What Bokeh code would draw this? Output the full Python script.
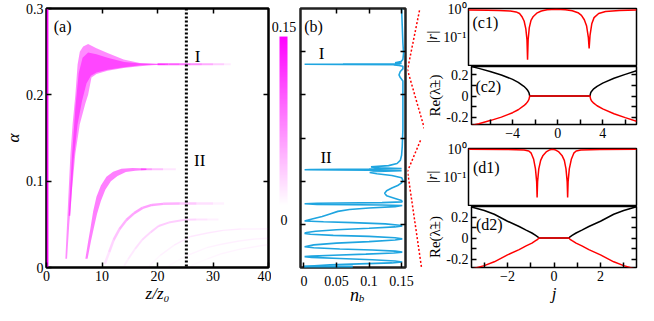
import numpy as np
from bokeh.plotting import figure
from bokeh.layouts import row, column
from bokeh.models import Range1d, LinearAxis, FixedTicker, Span, Label, LinearColorMapper
from bokeh.core.properties import value
from bokeh.embed import file_html
from bokeh.resources import INLINE

FONT = "Liberation Serif"
MAG = "#ff00ff"
BLUE = "#1fa5e0"

# ---------------- data ----------------
# panel (a)
a_z_ticks = [0, 10, 20, 30, 40]
a_alpha_ticks = [0.0, 0.1, 0.2, 0.3]
nb_max = 0.15
z_cut = 25.2
alpha_I = 0.2355
alpha_II = 0.1134

strip_z = [0.0, 0.35]
strip_alpha = [0.0, 0.3]

band1_top_z = [3.4, 3.7, 4.0, 4.3, 4.7, 5.2, 5.6, 6.0, 6.6, 7.5, 9.0, 11.0, 13.9, 16.8, 19.0, 21.4]
band1_top_a = [0.010, 0.050, 0.090, 0.130, 0.166, 0.200, 0.235, 0.250, 0.256, 0.259, 0.254, 0.2485, 0.241, 0.237, 0.2362, 0.2358]
band1_bot_z = [3.7, 4.1, 4.6, 5.2, 6.0, 7.0, 7.5, 8.1, 9.0, 11.0, 13.9, 16.8, 19.0, 21.4]
band1_bot_a = [0.010, 0.050, 0.090, 0.132, 0.166, 0.190, 0.200, 0.220, 0.224, 0.228, 0.231, 0.233, 0.2343, 0.2350]
band1_core_top_z = [4.0, 4.6, 5.2, 5.8, 6.5, 7.5, 9.0, 11.0, 14.0, 17.0, 20.0]
band1_core_top_a = [0.060, 0.130, 0.185, 0.225, 0.243, 0.249, 0.247, 0.243, 0.238, 0.2362, 0.2357]
band1_core_bot_z = [4.3, 4.9, 5.6, 6.4, 7.2, 8.0, 9.0, 11.0, 14.0, 17.0, 20.0]
band1_core_bot_a = [0.060, 0.125, 0.166, 0.193, 0.213, 0.222, 0.226, 0.229, 0.232, 0.2342, 0.2352]
band1_tail_z = [20.0, 22.0, 24.0, 26.0, 28.0, 30.0, 32.0, 33.2]
band1_tail_a = [0.2355, 0.2355, 0.2355, 0.2355, 0.2355, 0.2355, 0.2355, 0.2355]
band1_tail_i = [0.11, 0.10, 0.09, 0.075, 0.06, 0.04, 0.02, 0.005]

band2_top_z = [7.0, 7.5, 7.9, 8.4, 9.0, 9.8, 10.8, 12.0, 13.5, 15.5, 18.0]
band2_top_a = [0.010, 0.030, 0.045, 0.065, 0.082, 0.095, 0.105, 0.111, 0.1145, 0.1152, 0.1148]
band2_bot_z = [7.4, 8.0, 8.5, 9.1, 9.8, 10.6, 11.6, 12.8, 14.3, 16.0, 18.0]
band2_bot_a = [0.010, 0.030, 0.045, 0.062, 0.077, 0.090, 0.100, 0.106, 0.1105, 0.1122, 0.1128]
band2_tail_z = [17.0, 19.0, 21.0, 23.3]
band2_tail_a = [0.1138, 0.1138, 0.1138, 0.1138]
band2_tail_i = [0.07, 0.05, 0.025, 0.004]

band3_z = [10.5, 11.3, 12.1, 13.2, 14.4, 15.8, 17.3, 19.0, 21.0, 24.0, 27.0, 30.0, 32.0]
band3_a = [0.004, 0.018, 0.032, 0.045, 0.055, 0.063, 0.069, 0.0725, 0.0737, 0.0740, 0.0740, 0.0740, 0.0740]
band3_i = [0.01, 0.02, 0.03, 0.04, 0.05, 0.055, 0.055, 0.055, 0.05, 0.04, 0.025, 0.012, 0.004]
band4_z = [14.0, 14.7, 16.0, 17.3, 18.8, 20.2, 22.0, 24.9, 27.0, 29.0, 31.0]
band4_a = [0.002, 0.0095, 0.022, 0.0325, 0.041, 0.048, 0.052, 0.0554, 0.0557, 0.0557, 0.0557]
band4_i = [0.005, 0.01, 0.015, 0.02, 0.025, 0.03, 0.03, 0.028, 0.02, 0.012, 0.004]
band5_z = [18.5, 20.5, 23.0, 26.0, 29.0, 31.8, 35.0, 40.0]
band5_a = [0.002, 0.014, 0.026, 0.036, 0.040, 0.043, 0.0445, 0.0448]
band5_i = [0.003, 0.006, 0.010, 0.013, 0.014, 0.013, 0.010, 0.006]
band6_z = [22.0, 25.0, 28.9, 31.5, 34.7, 37.5, 40.0]
band6_a = [0.002, 0.013, 0.023, 0.027, 0.0306, 0.033, 0.034]
band6_i = [0.002, 0.005, 0.008, 0.009, 0.009, 0.008, 0.007]
band7_z = [26.0, 29.0, 31.5, 34.7, 37.5, 40.0]
band7_a = [0.002, 0.010, 0.016, 0.021, 0.024, 0.0267]
band7_i = [0.002, 0.004, 0.006, 0.007, 0.007, 0.006]

# panel (b): n_b versus alpha  (alpha, n_b)
nb_curve = [
    (0.300, 0.150), (0.280, 0.151), (0.260, 0.152), (0.248, 0.153), (0.241, 0.152),
    (0.2385, 0.149), (0.2372, 0.140), (0.2364, 0.150), (0.2360, 0.140), (0.2357, 0.060),
    (0.2355, 0.001), (0.2353, 0.060), (0.2350, 0.148), (0.2346, 0.138), (0.2340, 0.146),
    (0.2330, 0.152), (0.2300, 0.152), (0.2270, 0.148), (0.2230, 0.146), (0.2200, 0.148),
    (0.2160, 0.152), (0.200, 0.152), (0.180, 0.152), (0.160, 0.152), (0.140, 0.151),
    (0.130, 0.150), (0.124, 0.148), (0.1205, 0.143), (0.1180, 0.130), (0.1165, 0.103),
    (0.1155, 0.112), (0.1147, 0.150), (0.1140, 0.100), (0.1136, 0.010), (0.1132, 0.001),
    (0.1128, 0.100), (0.1122, 0.150), (0.1112, 0.112), (0.1100, 0.101), (0.1085, 0.112),
    (0.1065, 0.135), (0.1040, 0.150), (0.1010, 0.152), (0.0980, 0.150), (0.0950, 0.144),
    (0.0920, 0.135), (0.0890, 0.127), (0.0860, 0.124), (0.0830, 0.127), (0.0800, 0.140),
    (0.0775, 0.150), (0.0760, 0.151), (0.0752, 0.120), (0.0745, 0.020), (0.0738, 0.001),
    (0.0731, 0.020), (0.0724, 0.120), (0.0718, 0.151), (0.0705, 0.140), (0.0690, 0.100),
    (0.0672, 0.070), (0.0650, 0.052), (0.0620, 0.040), (0.0590, 0.028), (0.0565, 0.014),
    (0.0548, 0.005), (0.0539, 0.001), (0.0530, 0.030), (0.0520, 0.075), (0.0505, 0.125),
    (0.0490, 0.147), (0.0481, 0.151), (0.0470, 0.140), (0.0455, 0.100), (0.0438, 0.050),
    (0.0420, 0.018), (0.0405, 0.004), (0.0395, 0.001), (0.0385, 0.010), (0.0372, 0.045),
    (0.0360, 0.100), (0.0345, 0.140), (0.0332, 0.151), (0.0318, 0.140), (0.0300, 0.100),
    (0.0282, 0.050), (0.0262, 0.015), (0.0241, 0.001), (0.0228, 0.015), (0.0215, 0.055),
    (0.0202, 0.105), (0.0190, 0.140), (0.0178, 0.151), (0.0168, 0.138), (0.0155, 0.095),
    (0.0142, 0.045), (0.0132, 0.012), (0.0126, 0.001), (0.0117, 0.012), (0.0104, 0.055),
    (0.0090, 0.105), (0.0075, 0.140), (0.0063, 0.151), (0.0053, 0.135), (0.0042, 0.085),
    (0.0030, 0.040), (0.0018, 0.010), (0.0011, 0.001),
]
nb_alpha = [a for a, n in nb_curve]
nb_n = [n for a, n in nb_curve]
nb_base_n = [0.0, 0.075]
nb_base_alpha = [0.0008, 0.0008]
b_n_ticks = [0, 0.05, 0.1, 0.15]
b_n_labels = {0: "0", 0.05: "0.05", 0.1: "0.1", 0.15: "0.15"}
b_alpha_ticks = [0.05, 0.1, 0.15, 0.2, 0.25]

# panel (c1): |r| versus j
c1_j = [-7.65, -6.0, -5.0, -4.0, -3.5, -3.2, -3.0, -2.8, -2.65, -2.55, -2.50, -2.45, -2.35, -2.2, -2.0, -1.7, -1.3,
        -0.8, 0.0, 0.8, 1.4, 1.9, 2.2, 2.45, 2.65, 2.80, 2.87, 2.95, 3.1, 3.3, 3.7, 4.3, 5.5, 7.0]
c1_r = [0.93, 0.92, 0.90, 0.86, 0.80, 0.70, 0.55, 0.38, 0.20, 0.08, 0.016, 0.08, 0.22, 0.40, 0.55, 0.72, 0.86,
        0.95, 1.0, 0.96, 0.88, 0.75, 0.60, 0.42, 0.25, 0.10, 0.04, 0.12, 0.30, 0.50, 0.70, 0.82, 0.90, 0.93]
# panel (c2): Re(lambda) upper branch outside the exceptional points
c2_left_j = [-7.65, -7.0, -6.0, -5.0, -4.0, -3.5, -3.0, -2.8, -2.65, -2.55, -2.48]
c2_left_re = [0.280, 0.262, 0.233, 0.200, 0.158, 0.130, 0.092, 0.072, 0.052, 0.032, 0.0]
c2_right_j = [2.87, 2.93, 3.0, 3.2, 3.5, 4.0, 5.0, 6.0, 7.0]
c2_right_re = [0.0, 0.030, 0.044, 0.068, 0.092, 0.122, 0.168, 0.205, 0.240]
c_j_ticks = [-4, 0, 4]
c_j_minor = [-6, -2, 2, 6]

# panel (d1)
d1_j = [-3.55, -2.0, -1.2, -1.0, -0.9, -0.8, -0.72, -0.67, -0.65, -0.63, -0.58, -0.5, -0.4, -0.25, -0.1, 0.0,
        0.1, 0.25, 0.4, 0.5, 0.57, 0.62, 0.64, 0.66, 0.71, 0.8, 0.9, 1.0, 1.2, 2.0, 3.55]
d1_r = [0.99, 0.98, 0.93, 0.86, 0.72, 0.45, 0.20, 0.07, 0.019, 0.07, 0.20, 0.40, 0.60, 0.82, 0.96, 1.0,
        0.96, 0.82, 0.60, 0.40, 0.20, 0.07, 0.019, 0.07, 0.20, 0.45, 0.72, 0.86, 0.93, 0.98, 0.99]
# panel (d2)
d2_left_j = [-3.55, -3.0, -2.57, -2.0, -1.5, -1.2, -0.95, -0.79, -0.70, -0.65]
d2_left_re = [0.295, 0.262, 0.226, 0.160, 0.110, 0.075, 0.048, 0.025, 0.012, 0.0]
d2_right_j = [0.64, 0.69, 0.78, 0.95, 1.2, 1.5, 2.0, 2.57, 3.0, 3.55]
d2_right_re = [0.0, 0.012, 0.025, 0.048, 0.075, 0.110, 0.160, 0.226, 0.262, 0.298]
d_j_ticks = [-2, 0, 2]
d_j_minor = [-3, -1, 1, 3]

re_ticks = [-0.2, 0.0, 0.2]
re_minor = [-0.1, 0.1]
re_labels = {-0.2: "-0.2", 0.0: "0", 0.2: "0.2"}
# |r| decades (axis shows log10 |r|)
r_decades = [-1, 0]
r_labels = {-1: "10⁻¹", 0: "10⁰"}
r_range = (0.0099, 1.056)

# ---------------- helpers ----------------
def base_fig(w, h, xr, yr, bl, br, bt, bb, x_loc="below", y_loc="left"):
    p = figure(width=w, height=h, x_range=Range1d(*xr), y_range=Range1d(*yr),
               x_axis_location=x_loc, y_axis_location=y_loc,
               output_backend="svg", toolbar_location=None,
               min_border_left=bl, min_border_right=br, min_border_top=bt, min_border_bottom=bb)
    p.grid.visible = False
    p.outline_line_color = "black"
    p.outline_line_width = 1.5
    p.background_fill_color = "white"
    p.border_fill_color = "white"
    return p


def tick_style(ax, ticks, labels=True, size="14px", overrides=None, minor=None, tick_len=5, standoff=3):
    ax.ticker = FixedTicker(ticks=ticks, minor_ticks=minor or [])
    ax.axis_line_color = None
    ax.major_tick_in = tick_len
    ax.major_tick_out = 0
    ax.major_tick_line_color = "black"
    ax.major_tick_line_width = 1.5
    if minor:
        ax.minor_tick_in = tick_len
        ax.minor_tick_out = 0
        ax.minor_tick_line_color = "black"
        ax.minor_tick_line_width = 1.5
    else:
        ax.minor_tick_line_color = None
    ax.major_label_text_font = FONT
    if labels:
        ax.major_label_text_color = "black"
        ax.major_label_text_font_size = size
        ax.major_label_standoff = standoff
    else:
        ax.major_label_text_color = None
        ax.major_label_text_font_size = "1px"
        ax.major_label_standoff = 0
    if overrides:
        ax.major_label_overrides = overrides


def axis_title(ax, text, size="17px", standoff=0, style="italic"):
    ax.axis_label = text
    ax.axis_label_text_font = FONT
    ax.axis_label_text_font_style = style
    ax.axis_label_text_font_size = size
    ax.axis_label_standoff = standoff
    ax.axis_label_text_color = "black"


def lab(p, x, y, text, size="16px", italic=False, align="left"):
    p.add_layout(Label(x=x, y=y, text=text, text_font=FONT, text_font_size=size,
                       text_font_style="italic" if italic else "normal",
                       text_color="black", text_align=align, text_baseline="middle"))


def txt(p, x, y, text, size="16px", italic=False, align="left"):
    p.text(x=[x], y=[y], text=[text], text_font=value(FONT), text_font_size=value(size),
           text_font_style="italic" if italic else "normal", text_color="black",
           text_align=align, text_baseline="middle")


def fading(p, zs, als, inten, width):
    zs = np.asarray(zs, float)
    als = np.asarray(als, float)
    it = np.asarray(inten, float)
    a = np.clip((it[:-1] + it[1:]) / 2 / nb_max, 0, 1)
    p.segment(x0=zs[:-1], y0=als[:-1], x1=zs[1:], y1=als[1:], line_color=MAG,
              line_alpha=a, line_width=width, line_cap="butt")


def band_patch(p, tz, ta, bz, ba, alpha):
    p.patch(list(tz) + list(bz)[::-1], list(ta) + list(ba)[::-1], fill_color=MAG,
            fill_alpha=alpha, line_color=None)

H = 305
TOP = 8          # frame top (px)
FRAME_H = 259    # frame height of panels (a), (b)

# ---------------- panel (a) ----------------
pa = base_fig(271, H, (0, 40), (0, 0.3), 38, 3, TOP, H - TOP - FRAME_H)
pa.outline_line_width = 2.5
tick_style(pa.xaxis[0], a_z_ticks)
tick_style(pa.yaxis[0], a_alpha_ticks)
axis_title(pa.xaxis[0], "z/z₀")
axis_title(pa.yaxis[0], "α", size="17px")
ta = LinearAxis(); tick_style(ta, a_z_ticks[1:-1], labels=False); pa.add_layout(ta, "above")
ra = LinearAxis(); tick_style(ra, a_alpha_ticks[1:-1], labels=False); pa.add_layout(ra, "right")

pa.patch([strip_z[0], strip_z[1], strip_z[1], strip_z[0]],
         [strip_alpha[0], strip_alpha[0], strip_alpha[1], strip_alpha[1]],
         fill_color=MAG, fill_alpha=0.95, line_color=None)
fading(pa, band7_z, band7_a, band7_i, 1.5)
fading(pa, band6_z, band6_a, band6_i, 1.5)
fading(pa, band5_z, band5_a, band5_i, 1.5)
fading(pa, band4_z, band4_a, band4_i, 2.0)
fading(pa, band3_z, band3_a, band3_i, 2.5)
band_patch(pa, band2_top_z, band2_top_a, band2_bot_z, band2_bot_a, 0.5)
fading(pa, band2_tail_z, band2_tail_a, band2_tail_i, 2.0)
band_patch(pa, band1_top_z, band1_top_a, band1_bot_z, band1_bot_a, 0.45)
band_patch(pa, band1_core_top_z, band1_core_top_a, band1_core_bot_z, band1_core_bot_a, 0.5)
fading(pa, band1_tail_z, band1_tail_a, band1_tail_i, 2.0)

pa.add_layout(Span(location=z_cut, dimension="height", line_color="black", line_width=3, line_dash="2 2"))
lab(pa, 1.3, 0.279, "(a)")
lab(pa, 27.2, 0.2446, "I", size="17px", align="center")
lab(pa, 27.6, 0.124, "II", size="17px", align="center")

# ---------------- colour bar ----------------
pal = ["#%02x%02x%02x" % (255, int(round(255 * (1 - t))), 255) for t in np.linspace(0, 1, 256)]
mapper = LinearColorMapper(palette=pal, low=0, high=nb_max)
pcb = figure(width=27, height=H, x_range=Range1d(0, 27), y_range=Range1d(-0.0550, 0.1749),
             x_axis_location=None, y_axis_location=None, min_border=0,
             output_backend="svg", toolbar_location=None)
pcb.grid.visible = False
pcb.outline_line_color = None
ramp = np.linspace(0, nb_max, 200).reshape(-1, 1)
pcb.image(image=[ramp], x=8, y=0, dw=8, dh=nb_max, color_mapper=mapper)
txt(pcb, 12.5, 0.1583, "0.15", size="14px", align="center")
txt(pcb, 12.5, -0.0128, "0", size="14px", align="center")

# ---------------- panel (b) ----------------
bx0, bx1 = -0.0053, 0.156
PB_H = TOP + FRAME_H + 2
pb = base_fig(109, PB_H, (bx0, bx1), (0, 0.3), 2, 2, TOP, 2)
pb.outline_line_width = 2.5
pb.outline_line_color = "#222222"
tick_style(pb.xaxis[0], b_n_ticks, labels=False)
tick_style(pb.yaxis[0], b_alpha_ticks, labels=False)
tb = LinearAxis(); tick_style(tb, b_n_ticks[1:], labels=False); pb.add_layout(tb, "above")
rb = LinearAxis(); tick_style(rb, b_alpha_ticks, labels=False); pb.add_layout(rb, "right")
pb.line(nb_n, nb_alpha, line_color=BLUE, line_width=1.6)
pb.line(nb_base_n, nb_base_alpha, line_color=BLUE, line_width=2.5)
lab(pb, 0.0005, 0.279, "(b)")
lab(pb, 0.027, 0.248, "I", size="17px", align="center")
lab(pb, 0.034, 0.127, "II", size="17px", align="center")

# tick labels and title of panel (b) (axis strip below it)
pbx = figure(width=126, height=H - PB_H, x_range=pb.x_range, y_range=Range1d(0, 1),
             x_axis_location="above", y_axis_location=None, output_backend="svg", toolbar_location=None,
             min_border_left=2, min_border_right=19, min_border_top=19, min_border_bottom=0)
pbx.grid.visible = False
pbx.outline_line_color = None
tick_style(pbx.xaxis[0], b_n_ticks, overrides=b_n_labels, tick_len=0)
pbx.xaxis[0].major_tick_line_color = None
px_per_n = 105.0 / (bx1 - bx0)
txt(pbx, 0.0754 + 1.5 / px_per_n, 0.62, "n", size="18px", italic=True, align="center")
txt(pbx, 0.0754 + 8.5 / px_per_n, 0.42, "b", size="11px", italic=True, align="center")

# connector between panel (b) and panels (c), (d)
CW = 17
a_top = 0.3 * (PB_H - 2) / FRAME_H
a_bot = -0.3 * 2 / FRAME_H
conn = figure(width=CW, height=PB_H, x_range=Range1d(0, CW), y_range=Range1d(a_bot, a_top),
              x_axis_location=None, y_axis_location=None, min_border=0,
              output_backend="svg", toolbar_location=None)
conn.grid.visible = False
conn.outline_line_color = None


def ay(py):  # pixel row in this strip -> alpha
    return (PB_H - 2 - py) * 0.3 / FRAME_H

conn.line([12, 0, 17], [ay(2), alpha_I, ay(125)], line_color="red", line_width=1.5, line_dash="2 2")
conn.line([13, 0, 14], [ay(137), alpha_II, ay(269)], line_color="red", line_width=1.5, line_dash="2 2")

# ---------------- panels (c), (d) ----------------
W_R = 214
AX_W = 43
c_xr = (-7.65, 7.0)
d_xr = (-3.55, 3.55)
RE_TITLE = "Re(λ̃±)"
lr = (float(np.log10(r_range[0])), float(np.log10(r_range[1])))


def r_panel(h, xr, bt):
    """|r| panel: a narrow strip carrying the log-decade axis, and the plot area itself."""
    yr = Range1d(*lr)
    axf = figure(width=AX_W, height=h, x_range=Range1d(0, 1), y_range=yr,
                 x_axis_location=None, y_axis_location="left", output_backend="svg",
                 toolbar_location=None, min_border_left=AX_W - 1, min_border_right=0,
                 min_border_top=bt, min_border_bottom=1)
    axf.grid.visible = False
    axf.outline_line_color = None
    tick_style(axf.yaxis[0], r_decades, overrides=r_labels, tick_len=0, standoff=1)
    axis_title(axf.yaxis[0], "|r|", size="14px")
    p = figure(width=W_R - AX_W, height=h, x_range=Range1d(*xr), y_range=yr,
               x_axis_location=None, y_axis_location=None, output_backend="svg",
               toolbar_location=None, min_border_left=1, min_border_right=2,
               min_border_top=bt, min_border_bottom=1)
    p.grid.visible = False
    p.outline_line_color = "black"
    p.outline_line_width = 1.5
    return axf, p


def re_panel(h, xr, bb, jt, jm, jlabels=None):
    p = base_fig(W_R, h, xr, (-0.27, 0.28) if jlabels is None else (-0.28, 0.30), 44, 2, 0, bb)
    tick_style(p.xaxis[0], jt, minor=jm)
    tick_style(p.yaxis[0], re_ticks, overrides=re_labels, minor=re_minor)
    axis_title(p.yaxis[0], RE_TITLE, size="15px", style="normal")
    ax = LinearAxis(); tick_style(ax, re_ticks, labels=False, minor=re_minor); p.add_layout(ax, "right")
    if jlabels:
        axis_title(p.xaxis[0], jlabels, size="17px")
    return p

ac1, pc1 = r_panel(66, c_xr, 8)
pc1.line(c1_j, np.log10(c1_r), line_color="red", line_width=1.5)
lab(pc1, -7.3, float(np.log10(0.333)), "(c1)")

pc2 = re_panel(75, c_xr, 17, c_j_ticks, c_j_minor)
pc2.line(c2_left_j + c2_right_j, c2_left_re + c2_right_re, line_color="black", line_width=1.5)
pc2.line(c2_left_j + c2_right_j, [-v for v in c2_left_re + c2_right_re], line_color="red", line_width=1.5)
lab(pc2, -7.3, 0.088, "(c2)")

ad1, pd1 = r_panel(65, d_xr, 7)
pd1.line(d1_j, np.log10(d1_r), line_color="red", line_width=1.5)
lab(pd1, -3.36, float(np.log10(0.23)), "(d1)")

pd2 = re_panel(99, d_xr, 38, d_j_ticks, d_j_minor, jlabels="j")
pd2.line(d2_left_j + d2_right_j, d2_left_re + d2_right_re, line_color="black", line_width=1.5)
pd2.line(d2_left_j + d2_right_j, [-v for v in d2_left_re + d2_right_re], line_color="red", line_width=1.5)
lab(pd2, -3.36, 0.132, "(d2)")

mid = column(row(pb, conn, spacing=0), pbx, spacing=0)
right = column(row(ac1, pc1, spacing=0), pc2, row(ad1, pd1, spacing=0), pd2, spacing=0)
layout = row(pa, pcb, mid, right, spacing=0)
open("out.html", "w").write(file_html(layout, INLINE))
